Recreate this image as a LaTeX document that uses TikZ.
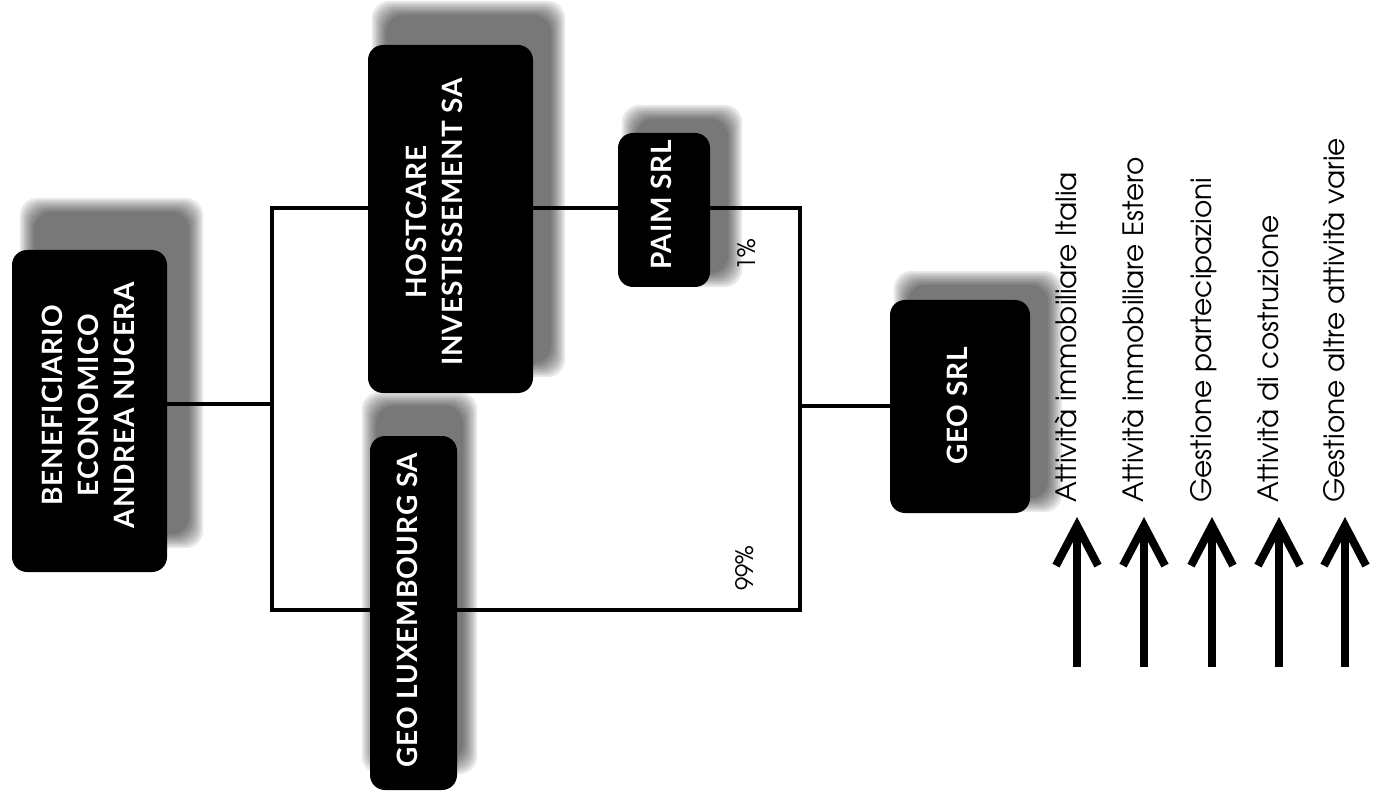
\documentclass[tikz,border=0pt]{standalone}
\usepackage{fontspec}
\setmainfont{TeX Gyre Adventor}
\newfontfamily\boxfont[LetterSpace=3]{Lato}
\usetikzlibrary{arrows.meta}
\pgfdeclarelayer{bg}
\pgfdeclarelayer{lines}
\pgfsetlayers{bg,lines,main}
\newcommand\mkshadow[3]{%
  \foreach \e in {0,2,...,14}{%
    \fill[black,opacity=0.09,rounded corners=18pt]
      ([shift={(#2-\e,#3+\e)}]#1.south west) rectangle ([shift={(#2+\e,#3-\e)}]#1.north east);
  }}
\tikzset{
  box/.style={fill=black,rounded corners=15pt,inner sep=0pt,draw=none},
  boxtxt/.style={text=white,rotate=90,align=center,inner sep=0pt,
    font=\boxfont\bfseries\fontsize{28}{36}\selectfont},
  conn/.style={line width=4.5pt},
  pct/.style={rotate=90,inner sep=0pt,font=\fontsize{24}{28}\selectfont},
  lbl/.style={rotate=90,anchor=mid west,inner sep=0pt,font=\fontsize{28}{32}\selectfont},
  bigarrow/.style={line width=8pt,-{Straight Barb[length=40pt,width=42pt]}}
}
\begin{document}
\begin{tikzpicture}[x=1pt,y=-1pt]
\useasboundingbox (0,0) rectangle (1379,794);
% boxes
\node[box,minimum width=155pt,minimum height=322pt] (ben) at (89.5,411) {};
\node[box,minimum width=165pt,minimum height=348pt] (host) at (450.5,219) {};
\node[box,minimum width=87pt,minimum height=354pt] (lux) at (413.5,613) {};
\node[box,minimum width=92pt,minimum height=154pt] (paim) at (664,210) {};
\node[box,minimum width=140pt,minimum height=213pt] (geo) at (960,406.5) {};
% box texts
\node[boxtxt] (bent) at (88,405) {BENEFICIARIO\\ECONOMICO\\ANDREA NUCERA};
\node[boxtxt] (hostt) at (434,222) {HOSTCARE\\INVESTISSEMENT SA};
\node[boxtxt] (luxt) at (407,610) {GEO LUXEMBOURG SA};
\node[boxtxt] (paimt) at (661,205) {PAIM SRL};
\node[boxtxt] (geot) at (957,406) {GEO SRL};
% shadows
\begin{pgfonlayer}{bg}
\mkshadow{ben}{22}{-38}
\mkshadow{host}{18}{-30}
\mkshadow{lux}{6}{-30}
\mkshadow{paim}{18}{-14}
\mkshadow{geo}{18}{-15}
\end{pgfonlayer}
% connectors
\coordinate (jl) at (272,404);
\coordinate (tl) at (272,208);
\coordinate (bl) at (272,610);
\coordinate (tr) at (800,208);
\coordinate (br) at (800,610);
\coordinate (mr) at (800,406);
\begin{pgfonlayer}{lines}
\draw[conn] (ben.east |- jl) -- (jl);
\draw[conn] (tl -| host.west) -- (tl) -- (bl) -- (bl -| lux.west);
\draw[conn] (bl -| lux.east) -- (br) -- (tr) -- (tr -| paim.east);
\draw[conn] (tr -| host.east) -- (tr -| paim.west);
\draw[conn] (mr) -- (geo.west |- mr);
\end{pgfonlayer}
% percentages
\node[pct] (p1) at (747,255) {1\%};
\node[pct] (p99) at (745,568) {99\%};
% activities
\node[lbl] (t1) at (1074,503) {Attività immobiliare Italia};
\node[lbl] (t2) at (1141,503) {Attività immobiliare Estero};
\node[lbl] (t3) at (1209,503) {Gestione partecipazioni};
\node[lbl] (t4) at (1276,503) {Attività di costruzione};
\node[lbl] (t5) at (1342,503) {Gestione altre attività varie};
\coordinate (a1) at (1077,667);
\coordinate (a2) at (1144,667);
\coordinate (a3) at (1212,667);
\coordinate (a4) at (1279,667);
\coordinate (a5) at (1345,667);
\foreach \i in {1,...,5}{
  \draw[bigarrow] (a\i) -- ([yshift=-14pt]a\i |- t\i.west);
}
\end{tikzpicture}
\end{document}
